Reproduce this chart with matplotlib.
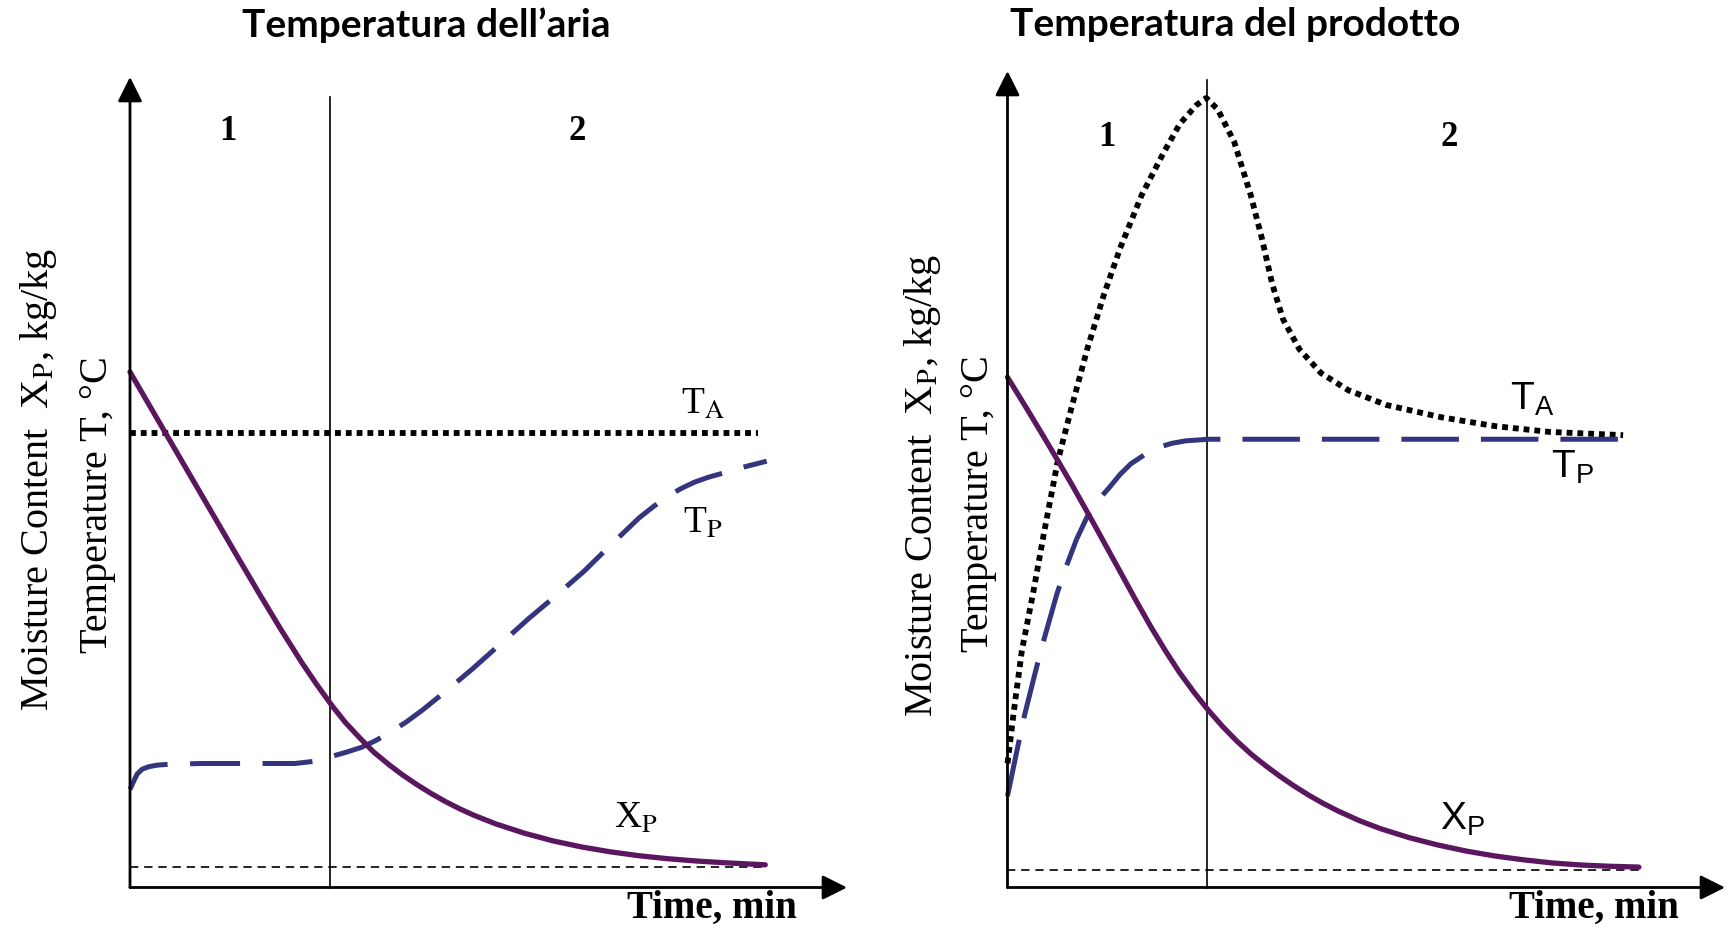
import matplotlib
matplotlib.use('Agg')
import matplotlib.pyplot as plt

plt.rcParams['mathtext.fontset'] = 'custom'
plt.rcParams['mathtext.rm'] = 'Liberation Sans'
plt.rcParams['mathtext.it'] = 'Liberation Sans:italic'
plt.rcParams['mathtext.bf'] = 'Liberation Sans:bold'

W, H = 1727, 927

# ---------------- data (axis scale 0..100 in time and value) ----------------
titles = ["Temperatura dell\u2019aria", "Temperatura del prodotto"]
phase_labels = ["1", "2"]
time_label = "Time, min"
ylabel_moisture = "Moisture Content  X$_\\mathrm{P}$, kg/kg"
ylabel_temp = "Temperature T, \u00b0C"

# left panel: constant air temperature
left_boundary = 27.9
left_equilibrium = 2.5
left_t_xp = [0, 5, 10, 15, 18, 21, 24, 26, 28.2, 30, 32, 34, 36.2, 38, 40, 42, 44,
             46, 48, 51, 55, 59, 63, 67, 71, 75, 79, 83, 88.6]
left_xp = [63.6, 56.0, 48.4, 40.8, 36.3, 31.9, 27.7, 25.1, 22.4, 20.4, 18.5, 16.7,
           15.1, 13.9, 12.7, 11.6, 10.6, 9.7, 8.9, 7.85, 6.7, 5.75, 5.0, 4.4, 3.92,
           3.55, 3.27, 3.05, 2.8]
left_t_ta = [0, 87.6]
left_ta = [56.1, 56.1]
left_t_tp = [0, 0.4, 1.0, 1.7, 2.6, 3.8, 5.3, 10.0, 16.0, 23.0, 26.0, 28.2, 30.2, 32.3,
             34.2, 36.2, 38.5, 40.8, 44.3, 47.8, 51.6, 55.5, 59.4, 63.3, 67.1, 71.0,
             73.0, 74.9, 76.8, 78.7, 80.6, 82.6, 85.7, 88.8]
left_tp = [12.1, 12.9, 14.0, 14.6, 14.9, 15.1, 15.2, 15.3, 15.3, 15.3, 15.6, 16.2,
           16.7, 17.3, 18.1, 19.1, 20.4, 21.9, 24.4, 27.0, 30.0, 33.1, 36.0, 39.0,
           42.3, 45.6, 47.0, 48.2, 49.2, 50.0, 50.6, 51.1, 51.9, 52.6]

# right panel: variable air temperature
right_boundary = 27.8
right_equilibrium = 2.2
right_t_xp = [0, 3, 6, 9, 12, 15, 18, 20, 22, 24, 26, 28, 30, 32, 34, 36, 38, 40, 42,
              44, 46, 49, 52, 56, 60, 64, 68, 72, 76, 80, 84, 88]
right_xp = [62.5, 58.2, 53.8, 49.3, 44.6, 39.8, 35.0, 31.9, 29.0, 26.3, 23.9, 21.7,
            19.7, 17.9, 16.3, 14.9, 13.6, 12.4, 11.3, 10.3, 9.4, 8.2, 7.2, 6.1, 5.2,
            4.45, 3.85, 3.38, 3.0, 2.75, 2.6, 2.5]
right_t_ta = [0, 0.9, 2.0, 3.6, 5.1, 7.0, 8.9, 11.1, 13.4, 15.7, 18.7, 21.7, 24.0,
              26.3, 27.7, 29.3, 31.6, 33.9, 35.4, 36.9, 38.4, 40.7, 43.7, 47.5,
              52.8, 60.4, 68.0, 75.5, 85.8]
right_ta = [15.2, 21.7, 29.0, 36.2, 43.5, 52.2, 58.7, 65.9, 72.5, 78.3, 84.8, 89.9,
            93.5, 95.8, 96.7, 95.3, 91.3, 84.8, 79.7, 73.9, 69.6, 65.9, 63.0, 60.9,
            59.1, 57.6, 56.5, 55.8, 55.4]
right_t_tp = [0, 1.3, 2.4, 3.6, 4.7, 5.8, 6.9, 8.1, 9.6, 11.1, 12.6, 14.2, 15.7,
              17.2, 19.1, 21.0, 22.9, 24.8, 28.0, 85.8]
right_tp = [11.2, 16.7, 21.2, 25.4, 29.2, 32.6, 36.0, 39.1, 42.6, 45.4, 47.4, 49.0,
            50.6, 51.9, 53.0, 53.9, 54.4, 54.7, 54.9, 54.9]

# ---------------- styles ----------------
XP_COLOR = '#5a165e'
TP_COLOR = '#34347f'
SERIF = 'Liberation Serif'
SANS = 'Liberation Sans'

fig = plt.figure(figsize=(W / 100, H / 100), dpi=100)


def make_axes(x0, y0_img, x1, y1_img):
    # pixel box -> figure fraction
    return fig.add_axes([x0 / W, (H - y0_img) / H, (x1 - x0) / W, (y0_img - y1_img) / H])


def draw_panel(ax, boundary, boundary_top, eq, t_xp, xp, t_ta, ta, t_tp, tp, dash):
    ax.set_xlim(0, 100)
    ax.set_ylim(0, 100)
    ax.axis('off')
    arrow = dict(arrowstyle='-|>,head_length=1.5,head_width=0.75', lw=2.0,
                 color='black', shrinkA=0, shrinkB=0)
    ax.annotate('', xy=(100, 0), xytext=(0, 0), xycoords='data',
                arrowprops=arrow, annotation_clip=False)
    ax.annotate('', xy=(0, 100), xytext=(0, 0), xycoords='data',
                arrowprops=arrow, annotation_clip=False)
    ax.plot([boundary, boundary], [0, boundary_top], color='black', lw=1.2, clip_on=False)
    ax.plot([0, t_xp[-1]], [eq, eq], color='black', lw=1.2,
            linestyle=(0, (5, 3.5)), clip_on=False)
    ax.plot(t_ta, ta, color='black', lw=4.2, linestyle=(0, (1, 0.85)),
            dash_capstyle='butt', clip_on=False)
    ax.plot(t_tp, tp, color=TP_COLOR, lw=3.6, linestyle=(0, dash),
            dash_capstyle='butt', clip_on=False)
    ax.plot(t_xp, xp, color=XP_COLOR, lw=3.8, solid_capstyle='round',
            solid_joinstyle='round', clip_on=False)


# left panel
axL = make_axes(130, 887.5, 847, 77)
draw_panel(axL, left_boundary, 97.5, left_equilibrium, left_t_xp, left_xp,
           left_t_ta, left_ta, left_t_tp, left_tp, (10, 4.5))
# right panel
axR = make_axes(1007.5, 887.5, 1725, 71)
draw_panel(axR, right_boundary, 98.9, right_equilibrium, right_t_xp, right_xp,
           right_t_ta, right_ta, right_t_tp, right_tp, (11.5, 4.4))

# phase numbers
for ax, yy, xs in [(axL, 93.3, (13.6, 62.3)), (axR, 91.8, (13.9, 61.5))]:
    for lab, xx in zip(phase_labels, xs):
        ax.text(xx, yy, lab, fontsize=25, family=SERIF, weight='bold',
                ha='center', va='center')

# curve labels
axL.text(79.9, 59.6, 'T$_\\mathrm{A}$', fontsize=27, family=SERIF, math_fontfamily='stix',
         ha='center', va='center')
axL.text(79.9, 44.9, 'T$_\\mathrm{P}$', fontsize=27, family=SERIF, math_fontfamily='stix',
         ha='center', va='center')
axL.text(70.6, 8.5, 'X$_\\mathrm{P}$', fontsize=27, family=SERIF, math_fontfamily='stix',
         ha='center', va='center')
axR.text(73.1, 59.8, 'T$_\\mathrm{A}$', fontsize=28, family=SANS, math_fontfamily='custom',
         ha='center', va='center')
axR.text(78.8, 51.4, 'T$_\\mathrm{P}$', fontsize=28, family=SANS, math_fontfamily='custom',
         ha='center', va='center')
axR.text(63.4, 8.3, 'X$_\\mathrm{P}$', fontsize=28, family=SANS, math_fontfamily='custom',
         ha='center', va='center')

# axis labels
for ax, xm, ym, xt, yt, xx in [(axL, -12.8, 50.4, -4.6, 47.3, 81.2),
                               (axR, -11.9, 49.3, -4.1, 47.0, 81.7)]:
    ax.text(xm, ym, ylabel_moisture, rotation=90, fontsize=29, family=SERIF,
            math_fontfamily='stix', ha='center', va='center')
    ax.text(xt, yt, ylabel_temp, rotation=90, fontsize=29, family=SERIF,
            ha='center', va='center')
    ax.text(xx, -2.6, time_label, fontsize=28, family=SERIF, weight='bold',
            ha='center', va='center')

# titles
fig.text(426.5 / W, 1 - 25 / H, titles[0], fontsize=28, family='Lato', weight='bold',
         ha='center', va='center')
fig.text(1235 / W, 1 - 25 / H, titles[1], fontsize=28, family='Lato', weight='bold',
         ha='center', va='center')

fig.savefig('out.png', dpi=100)
